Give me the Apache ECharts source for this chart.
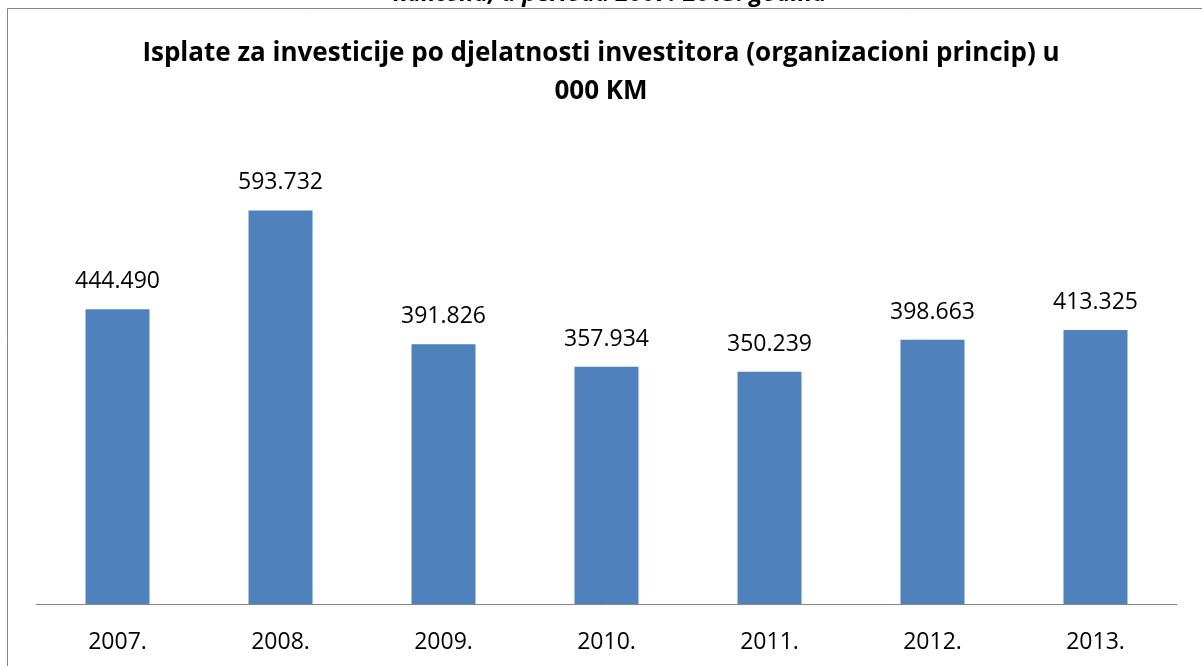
<!DOCTYPE html>
<html lang="bs">
<head>
    <meta charset="UTF-8">
    <title>Isplate za investicije</title>
    <script src="https://cdn.jsdelivr.net/npm/echarts@6/dist/echarts.min.js"></script>
    <style>
        body { margin: 0; background: #fff; }
    </style>
</head>
<body>
    <div id="main" style="width: 1202px;height: 666px"></div>
    <script type="application/javascript">
        // podaci
        var godine = ['2007.', '2008.', '2009.', '2010.', '2011.', '2012.', '2013.'];
        var isplate = [444.490, 593.732, 391.826, 357.934, 350.239, 398.663, 413.325];
        var naslov = 'Isplate za investicije po djelatnosti investitora (organizacioni princip) u\n000 KM';
        var natpis = 'kantona, u periodu 2007.-2013. godina';

        var myChart = echarts.init(document.getElementById('main'));
        var font = '"Open Sans", "Noto Sans", sans-serif';

        var option = {
            animation: false,
            backgroundColor: '#fff',
            title: {
                text: naslov,
                left: 'center',
                top: 30,
                textStyle: {
                    fontFamily: font,
                    fontSize: 26,
                    fontWeight: 'bold',
                    color: '#000',
                    lineHeight: 38
                }
            },
            graphic: [
                {
                    type: 'rect',
                    shape: { x: 7.5, y: 8.5, width: 1400, height: 900 },
                    style: { fill: 'none', stroke: '#868686', lineWidth: 1 },
                    silent: true
                },
                {
                    type: 'text',
                    x: 610,
                    y: -6,
                    style: {
                        text: natpis,
                        align: 'center',
                        verticalAlign: 'middle',
                        font: 'italic bold 24px ' + font,
                        fill: '#000'
                    }
                }
            ],
            grid: {
                left: 36,
                right: 25,
                top: 140,
                bottom: 62
            },
            xAxis: {
                type: 'category',
                data: godine,
                axisLine: { lineStyle: { color: '#868686', width: 1 } },
                axisTick: { show: false },
                axisLabel: {
                    fontFamily: font,
                    fontSize: 23,
                    color: '#000',
                    margin: 27
                }
            },
            yAxis: {
                type: 'value',
                min: 0,
                max: 700,
                show: false,
                splitLine: { show: false }
            },
            series: [
                {
                    name: 'Isplate',
                    type: 'bar',
                    data: isplate,
                    barWidth: 64,
                    itemStyle: { color: '#4F81BD' },
                    label: {
                        show: true,
                        position: 'top',
                        distance: 16,
                        fontFamily: font,
                        fontSize: 23,
                        color: '#000',
                        formatter: function (p) { return p.value.toFixed(3); }
                    }
                }
            ]
        };
        myChart.setOption(option);
    </script>
</body>
</html>
